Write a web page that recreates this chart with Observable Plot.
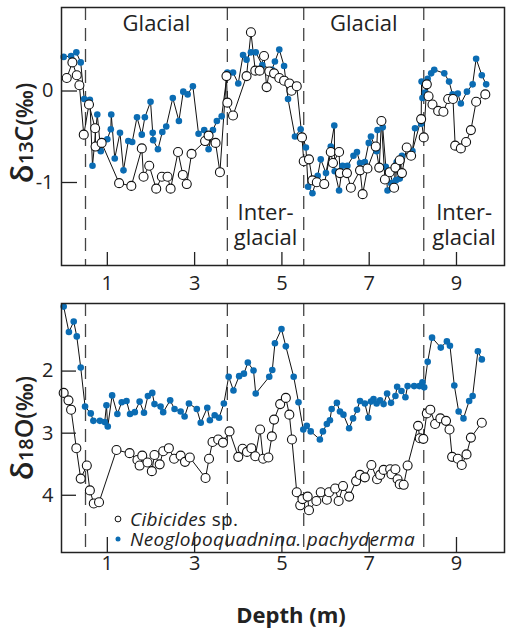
<!DOCTYPE html>
<html><head><meta charset="utf-8">
<script src="https://cdn.jsdelivr.net/npm/d3@7"></script>
<script src="https://cdn.jsdelivr.net/npm/@observablehq/plot@0.6"></script>
<style>
body{margin:0;background:#fff;}
#chart{position:relative;width:506px;height:632px;font-family:"Open Sans",sans-serif;background:#fff;}
#chart svg{position:absolute;left:0;overflow:visible;}
</style></head><body><div id="chart"></div>
<script>
// ---------- data ----------
const xTicks = [1, 3, 5, 7, 9];
const yTicksC = [0, -1];
const yTicksO = [2, 3, 4];
const boundaries = [0.5, 3.75, 5.5, 8.25];
const periodNames = ["Glacial", "Inter-\nglacial", "Glacial", "Inter-\nglacial"];
const seriesNames = ["Cibicides", "Neogloboquadnina. pachyderma"];

// δ13C, Cibicides sp.
const cibC_depth = [0.07,0.20,0.30,0.36,0.46,0.58,0.72,0.73,0.87,1.27,1.55,1.79,1.83,1.96,2.12,2.25,2.38,2.45,2.62,2.73,2.82,2.93,3.24,3.32,3.48,3.58,3.73,3.75,3.88,4.19,4.29,4.39,4.49,4.59,4.65,4.71,4.82,4.94,5.05,5.17,5.22,5.34,5.46,5.50,5.62,5.70,5.80,5.97,6.12,6.17,6.31,6.33,6.49,6.58,6.79,6.85,6.96,7.15,7.23,7.28,7.36,7.47,7.57,7.60,7.70,7.75,7.86,7.96,8.19,8.25,8.32,8.36,8.45,8.58,8.70,8.81,8.92,8.97,9.10,9.22,9.33,9.45,9.66];
const cibC_value = [0.11,0.28,0.14,0.03,-0.51,-0.18,-0.44,-0.64,-0.60,-1.04,-1.07,-0.66,-0.97,-0.85,-1.10,-0.97,-0.97,-1.10,-0.70,-0.95,-1.05,-0.72,-0.58,-0.52,-0.60,-0.92,0.13,-0.16,-0.30,0.13,0.61,0.19,0.19,0.35,0.01,0.18,0.16,0.11,0.08,0.05,-0.03,0.02,-0.54,-0.80,-0.78,-1.01,-1.03,-1.05,-0.70,-0.82,-0.70,-0.93,-0.93,-1.09,-0.90,-1.16,-0.88,-0.64,-0.87,-0.36,-1.00,-0.92,-1.09,-0.87,-0.79,-0.93,-0.65,-0.74,-0.34,-0.54,0.04,-0.09,-0.18,-0.25,-0.26,-0.12,-0.12,-0.63,-0.66,-0.59,-0.46,-0.15,-0.07];

// δ13C, N. pachyderma
const neoC_depth = [0.00,0.17,0.29,0.39,0.47,0.60,0.66,0.77,0.85,1.00,1.08,1.09,1.17,1.29,1.37,1.48,1.57,1.68,1.79,1.86,1.99,2.04,2.05,2.16,2.26,2.35,2.50,2.64,2.74,2.84,2.96,3.09,3.22,3.32,3.42,3.51,3.62,3.75,3.88,4.00,4.11,4.19,4.29,4.40,4.55,4.77,4.84,4.94,5.05,5.14,5.30,5.43,5.55,5.60,5.70,5.82,5.89,6.01,6.12,6.20,6.21,6.31,6.39,6.50,6.64,6.72,6.79,6.90,6.99,7.04,7.17,7.19,7.31,7.38,7.42,7.50,7.61,7.63,7.70,7.75,7.99,8.05,8.19,8.20,8.22,8.28,8.34,8.42,8.49,8.72,8.83,8.91,9.03,9.10,9.24,9.37,9.45,9.58,9.68];
const neoC_value = [0.34,0.35,0.39,0.28,-0.12,-0.13,-0.85,-0.29,-0.69,-0.56,-0.45,-0.29,-0.77,-0.49,-0.90,-0.58,-0.59,-0.32,-0.51,-0.32,-0.15,-0.49,-0.57,-0.67,-0.48,-0.42,-0.11,-0.36,-0.04,-0.07,0.02,-0.50,-0.46,-0.67,-0.46,-0.36,-0.31,0.17,0.17,0.05,0.36,0.31,0.39,0.39,0.25,0.20,0.29,0.42,0.24,-0.12,-0.53,-0.45,-0.65,-1.08,-1.15,-0.96,-0.78,-0.93,-0.64,-0.41,-0.91,-1.12,-0.85,-0.85,-0.74,-0.70,-0.82,-0.81,-0.60,-0.53,-0.69,-0.46,-0.43,-0.86,-1.12,-1.04,-1.01,-0.81,-0.99,-0.74,-0.69,-0.44,-0.39,0.07,-0.11,-0.05,0.10,0.16,0.20,0.16,0.07,-0.07,-0.06,-0.17,-0.04,0.04,0.32,0.14,0.04];

// δ18O, Cibicides sp.
const cibO_depth = [0.00,0.11,0.17,0.29,0.39,0.53,0.60,0.69,0.81,1.21,1.51,1.69,1.74,1.80,1.92,2.02,2.08,2.20,2.28,2.41,2.53,2.68,2.78,2.89,3.25,3.33,3.41,3.54,3.65,3.80,4.00,4.10,4.20,4.30,4.39,4.50,4.57,4.69,4.77,4.82,4.96,5.09,5.17,5.23,5.34,5.42,5.47,5.59,5.62,5.79,5.89,6.03,6.08,6.22,6.30,6.40,6.54,6.70,6.79,6.90,7.05,7.18,7.25,7.33,7.48,7.51,7.60,7.65,7.70,7.79,7.88,8.12,8.16,8.24,8.32,8.40,8.51,8.63,8.76,8.84,8.90,9.03,9.12,9.23,9.33,9.58];
const cibO_value = [2.40,2.52,2.67,3.29,3.78,3.57,3.97,4.18,4.16,3.32,3.37,3.48,3.57,3.41,3.52,3.66,3.40,3.55,3.34,3.29,3.46,3.41,3.51,3.44,3.77,3.46,3.19,3.15,3.20,3.02,3.43,3.30,3.35,3.29,3.42,2.99,3.46,3.44,3.10,2.83,2.58,2.48,2.75,3.15,4.00,4.21,4.11,4.07,4.29,4.14,4.00,4.12,4.00,3.94,4.14,3.90,4.07,3.82,3.72,3.76,3.56,3.79,3.72,3.64,3.63,3.71,3.63,3.79,3.87,3.88,3.57,2.93,3.13,3.14,2.73,2.67,2.90,2.81,2.85,2.99,3.43,3.46,3.56,3.39,3.12,2.88];

// δ18O, N. pachyderma
const neoO_depth = [0.00,0.12,0.23,0.30,0.39,0.49,0.62,0.68,0.83,0.94,0.98,1.01,1.11,1.23,1.33,1.44,1.52,1.63,1.74,1.84,1.93,2.03,2.08,2.22,2.28,2.44,2.54,2.68,2.77,2.87,3.05,3.14,3.29,3.35,3.46,3.56,3.67,3.78,3.89,4.02,4.13,4.22,4.35,4.40,4.71,4.78,4.84,4.99,5.09,5.27,5.38,5.49,5.57,5.66,5.87,5.94,6.03,6.10,6.14,6.26,6.33,6.41,6.54,6.63,6.72,6.79,6.90,6.98,7.04,7.10,7.17,7.25,7.33,7.41,7.50,7.60,7.64,7.74,7.83,7.88,8.03,8.15,8.22,8.26,8.34,8.44,8.64,8.78,8.85,8.95,9.05,9.16,9.29,9.37,9.49,9.58];
const neoO_value = [1.01,1.42,1.25,1.49,1.99,2.62,2.73,2.85,2.85,2.87,2.60,2.94,2.44,2.74,2.55,2.53,2.74,2.71,2.54,2.72,2.45,2.40,2.58,2.62,2.71,2.52,2.66,2.70,2.78,2.57,2.66,2.88,2.64,2.84,2.76,2.80,2.57,2.14,2.36,2.13,2.09,1.91,2.04,2.41,2.14,2.03,1.60,1.37,1.65,2.14,2.55,2.99,2.93,3.02,3.15,3.02,2.90,2.84,2.66,2.56,2.70,2.75,2.97,2.81,2.67,2.53,2.57,2.80,2.54,2.50,2.57,2.52,2.58,2.41,2.56,2.45,2.30,2.37,2.47,2.29,2.29,2.29,2.23,2.31,1.90,1.51,1.67,1.57,1.64,2.28,2.70,2.81,2.53,2.45,1.73,1.86];

// ---------- build ----------
const zip = (xs, ys) => xs.map((x, i) => ({depth: x, value: ys[i]}));
const cibC = zip(cibC_depth, cibC_value);
const neoC = zip(neoC_depth, neoC_value);
const cibO = zip(cibO_depth, cibO_value);
const neoO = zip(neoO_depth, neoO_value);

const xDomain = [-0.05, 10.1];
const edges = [...boundaries, xDomain[1]];
const periods = periodNames.map((name, i) => ({name, mid: (edges[i] + edges[i + 1]) / 2}));
const glacial = periods.filter(p => !p.name.includes("\n"));
const inter = periods.filter(p => p.name.includes("\n"));

const BLUE = "#0b6cb3";
const FONT = "Open Sans, sans-serif";
const fmt = d => String(d);

function seriesMarks(cib, neo) {
  return [
    Plot.ruleX(boundaries, {stroke: "#444", strokeWidth: 1.3, strokeDasharray: "13,8"}),
    Plot.line(neo, {x: "depth", y: "value", stroke: "#111", strokeWidth: 1}),
    Plot.line(cib, {x: "depth", y: "value", stroke: "#111", strokeWidth: 1}),
    Plot.dot(neo, {x: "depth", y: "value", r: 3.3, fill: BLUE, stroke: "none"}),
    Plot.dot(cib, {x: "depth", y: "value", r: 4.5, fill: "white", stroke: "#111", strokeWidth: 1.1}),
    Plot.frame({stroke: "#222", strokeWidth: 1.5})
  ];
}

const plotTop = Plot.plot({
  width: 506, height: 300,
  marginLeft: 61, marginRight: 2, marginTop: 7, marginBottom: 35,
  style: {fontFamily: FONT, fontSize: "20px", color: "#222", background: "transparent", overflow: "visible"},
  x: {domain: xDomain, axis: null},
  y: {domain: [-1.94, 0.88], axis: null},
  marks: [
    ...seriesMarks(cibC, neoC),
    Plot.axisX({ticks: xTicks, tickSize: -13, tickPadding: 23, tickFormat: fmt, label: null, strokeWidth: 1.3}),
    Plot.axisY({ticks: yTicksC, tickSize: -16, tickPadding: 24, tickFormat: fmt, label: null, dy: 3, strokeWidth: 1.3}),
    Plot.text(glacial, {x: "mid", text: "name", frameAnchor: "top", lineAnchor: "top", dy: 8, fontSize: 22, fill: "#222"}),
    Plot.text(inter, {x: "mid", text: "name", frameAnchor: "bottom", lineAnchor: "top", dy: -63, fontSize: 22, lineHeight: 1.12, fill: "#222"})
  ]
});

const plotBottom = Plot.plot({
  width: 506, height: 342,
  marginLeft: 61, marginRight: 2, marginTop: 13, marginBottom: 80,
  style: {fontFamily: FONT, fontSize: "20px", color: "#222", background: "transparent", overflow: "visible"},
  x: {domain: xDomain, axis: null},
  y: {domain: [0.96, 4.97], reverse: true, axis: null},
  marks: [
    ...seriesMarks(cibO, neoO),
    Plot.axisX({ticks: xTicks, tickSize: -15, tickPadding: 18, tickFormat: fmt, label: null, strokeWidth: 1.3}),
    Plot.axisY({ticks: yTicksO, tickSize: -15, tickPadding: 23, tickFormat: fmt, label: null, dy: 3, strokeWidth: 1.3})
  ]
});

const chart = document.getElementById("chart");
plotTop.style.top = "0px";
plotBottom.style.top = "290px";
chart.appendChild(plotTop);
chart.appendChild(plotBottom);

// y-axis titles
function yTitle(svg, cy, iso, elem) {
  const t = d3.select(svg).append("text")
    .attr("transform", `translate(33,${cy}) rotate(-90)`)
    .attr("text-anchor", "middle")
    .attr("font-family", FONT)
    .attr("font-weight", 600)
    .attr("fill", "#222");
  t.append("tspan").attr("font-size", 31).text("δ");
  t.append("tspan").attr("font-size", 20).text(iso);
  t.append("tspan").attr("font-size", 25).text(elem);
  t.append("tspan").attr("font-size", 23).text("(‰)");
}
yTitle(plotTop, 133, "13", "C");
yTitle(plotBottom, 138, "18", "O");

// legend
const lg = d3.select(plotBottom).append("g")
  .attr("font-family", FONT).attr("font-size", 19).attr("letter-spacing", 0.3)
  .attr("fill", "#222").attr("text-anchor", "start");
lg.append("circle").attr("cx", 118).attr("cy", 229).attr("r", 2.9).attr("fill", "white").attr("stroke", "#111").attr("stroke-width", 1);
const t1 = lg.append("text").attr("x", 130).attr("y", 235.5).attr("text-anchor", "start");
t1.append("tspan").attr("font-style", "italic").text(seriesNames[0]);
t1.append("tspan").text(" sp.");
lg.append("circle").attr("cx", 118).attr("cy", 249).attr("r", 2.5).attr("fill", BLUE);
lg.append("text").attr("x", 130).attr("y", 255.5).attr("text-anchor", "start").attr("font-style", "italic").text(seriesNames[1]);

// x-axis title
d3.select(plotBottom).append("text")
  .attr("x", 291).attr("y", 333)
  .attr("text-anchor", "middle")
  .attr("font-family", FONT).attr("font-weight", "bold").attr("font-size", 22)
  .attr("fill", "#222")
  .text("Depth (m)");
</script></body></html>
